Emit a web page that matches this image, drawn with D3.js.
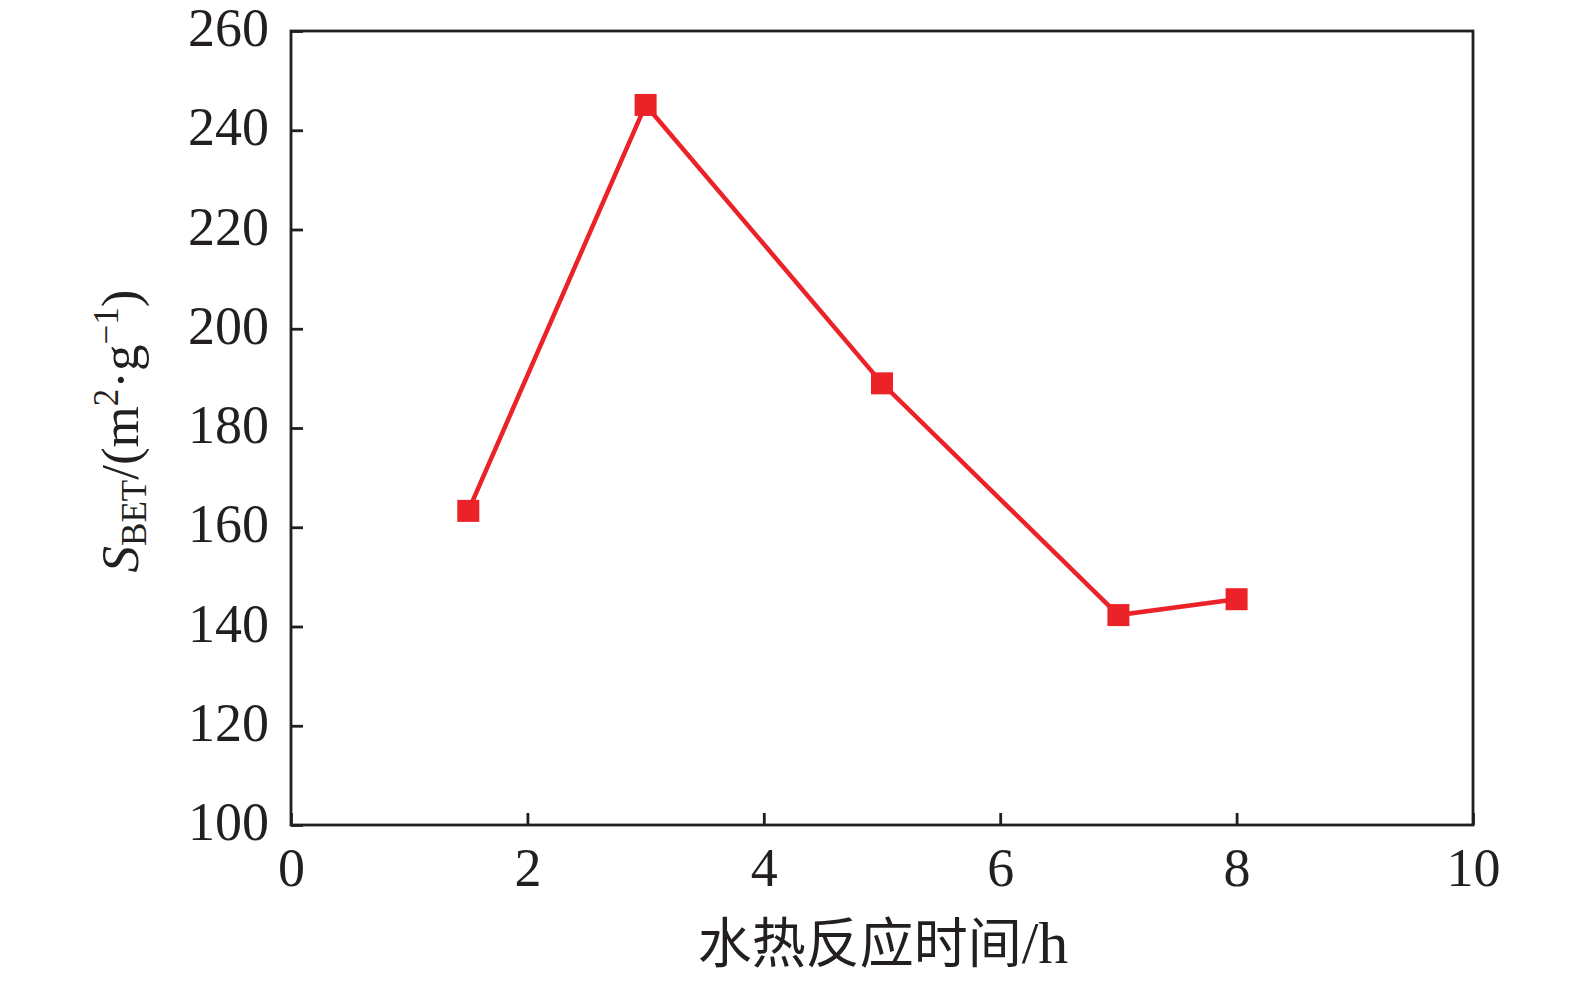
<!DOCTYPE html>
<html>
<head>
<meta charset="utf-8">
<script src="https://cdn.jsdelivr.net/npm/d3@7"></script>
<style>
  html, body { margin: 0; padding: 0; background: #fff; }
  svg { display: block; }
  text { font-family: "Liberation Serif", "Times New Roman", serif; fill: #231f20; }
</style>
</head>
<body>
<div id="chart"></div>
<script>
// data
const hours = [1.5, 3, 5, 7, 8];
const sbet = [163.3, 245.1, 189.0, 142.3, 145.5];
const xTicks = [0, 2, 4, 6, 8, 10];
const yTicks = [100, 120, 140, 160, 180, 200, 220, 240, 260];

const width = 1575;
const height = 988;
const margin = { top: 31, right: 102, bottom: 163, left: 291 };
const red = '#ec2229';
const ink = '#231f20';

const svg = d3.select('#chart')
    .append('svg')
    .attr('width', width)
    .attr('height', height);

const xScale = d3.scaleLinear()
    .domain([0, 10])
    .range([margin.left, width - margin.right]);

const yScale = d3.scaleLinear()
    .domain([100, 260])
    .range([height - margin.bottom, margin.top]);

// frame
svg.append('rect')
    .attr('x', margin.left)
    .attr('y', margin.top)
    .attr('width', width - margin.right - margin.left)
    .attr('height', height - margin.bottom - margin.top)
    .attr('fill', 'none')
    .attr('stroke', ink)
    .attr('stroke-width', 2.8);

// x axis
const xAxis = svg.append('g')
    .attr('transform', 'translate(0,' + (height - margin.bottom) + ')')
    .call(d3.axisBottom(xScale).tickValues(xTicks).tickSizeInner(-12).tickSizeOuter(0).tickPadding(23));

xAxis.select('.domain').remove();
xAxis.selectAll('line').attr('stroke', ink).attr('stroke-width', 2.8);
xAxis.selectAll('text')
    .style('font-size', '54px')
    .style('font-family', '"Liberation Serif", serif')
    .attr('fill', ink);

// y axis
const yAxis = svg.append('g')
    .attr('transform', 'translate(' + margin.left + ',0)')
    .call(d3.axisLeft(yScale).tickValues(yTicks).tickSizeInner(-12).tickSizeOuter(0).tickPadding(22));

yAxis.select('.domain').remove();
yAxis.selectAll('line').attr('stroke', ink).attr('stroke-width', 2.8);
yAxis.selectAll('text')
    .attr('dy', '0.27em')
    .style('font-size', '54px')
    .style('font-family', '"Liberation Serif", serif')
    .attr('fill', ink);

// x title
const xTitle = svg.append('text')
    .attr('x', 883)
    .attr('y', 963)
    .attr('text-anchor', 'middle')
    .style('font-size', '54px');

xTitle.append('tspan')
    .style('font-family', '"Noto Sans CJK SC", sans-serif')
    .text('水热反应时间');
xTitle.append('tspan')
    .style('font-family', '"Liberation Serif", serif')
    .style('font-size', '60px')
    .text('/h');

// y title
const yTitle = svg.append('text')
    .attr('transform', 'translate(138,431) rotate(-90)')
    .attr('text-anchor', 'middle')
    .style('font-size', '53px');

yTitle.append('tspan').style('font-style', 'italic').text('S');
yTitle.append('tspan').style('font-size', '35px').attr('dy', 8).text('BET');
yTitle.append('tspan').attr('dy', -8).text('/(m');
yTitle.append('tspan').style('font-size', '35px').attr('dy', -20).text('2');
yTitle.append('tspan').attr('dy', 20).text('·g');
yTitle.append('tspan').style('font-size', '35px').attr('dy', -20).text('−1');
yTitle.append('tspan').attr('dy', 20).text(')');

// line
const line = d3.line()
    .x((d, i) => xScale(hours[i]))
    .y(d => yScale(d));

svg.append('path')
    .datum(sbet)
    .attr('fill', 'none')
    .attr('stroke', red)
    .attr('stroke-width', 4.5)
    .attr('d', line);

// markers
const size = 22;
svg.selectAll('rect.marker')
    .data(sbet)
    .join('rect')
    .attr('class', 'marker')
    .attr('x', (d, i) => xScale(hours[i]) - size / 2)
    .attr('y', d => yScale(d) - size / 2)
    .attr('width', size)
    .attr('height', size)
    .attr('fill', red);
</script>
</body>
</html>
